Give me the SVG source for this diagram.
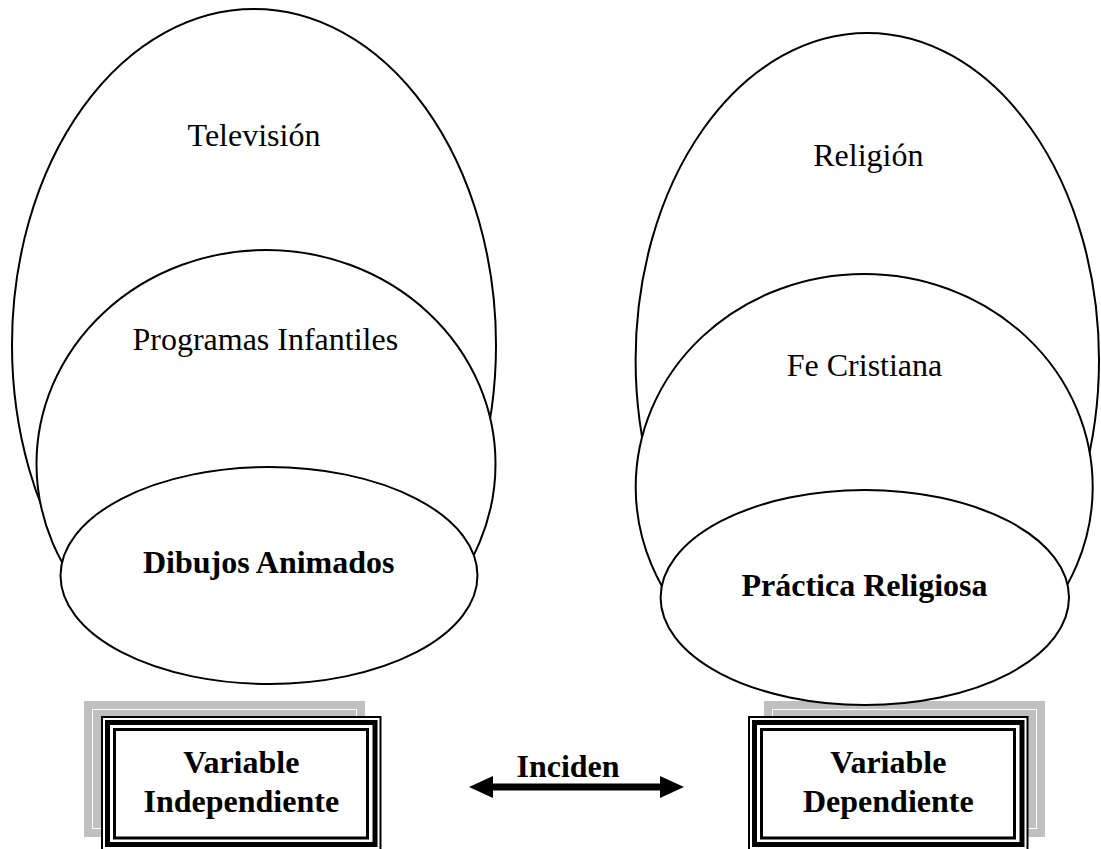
<svg xmlns="http://www.w3.org/2000/svg" width="1101" height="849" viewBox="0 0 1101 849">
<style>
  .ell { fill: #ffffff; stroke: #000000; stroke-width: 2; }
  .t { font-family: "Liberation Serif", "Times New Roman", serif; font-size: 32px; fill: #000000; text-anchor: middle; }
  .b { font-weight: bold; }
  .shadow { fill: #c0c0c0; }
  .shadowline { fill: none; stroke: #ffffff; stroke-width: 1; }
  .f1 { fill: #ffffff; stroke: #000000; stroke-width: 2; }
  .f2 { fill: none; stroke: #000000; stroke-width: 5; }
  .f3 { fill: none; stroke: #000000; stroke-width: 3; }
</style>
<defs>
  <marker id="head" viewBox="0 0 24 22" markerUnits="userSpaceOnUse" markerWidth="24" markerHeight="22" refX="8" refY="11" orient="auto-start-reverse">
    <path d="M0,0 L24,11 L0,22 z" fill="#000000"/>
  </marker>
</defs>
<rect width="1101" height="849" fill="#ffffff"/>

<!-- Variable boxes -->
<g id="var-independiente">
  <rect class="shadow" x="84" y="701" width="281" height="136"/>
  <rect class="shadowline" x="92.5" y="709.5" width="264" height="119"/>
  <rect class="f1" x="102" y="717" width="278.5" height="133"/>
  <rect class="f2" x="107.5" y="722.5" width="267.5" height="122"/>
  <rect class="f3" x="114.5" y="729.5" width="253" height="108.5"/>
  <text class="t b" x="241.3" y="772.7">Variable</text>
  <text class="t b" x="241.3" y="811.7">Independiente</text>
</g>
<g id="var-dependiente">
  <rect class="shadow" x="764" y="701" width="281" height="136"/>
  <rect class="shadowline" x="772.5" y="709.5" width="264" height="119"/>
  <rect class="f1" x="749" y="717" width="278.5" height="133"/>
  <rect class="f2" x="754.5" y="722.5" width="267.5" height="122"/>
  <rect class="f3" x="761.5" y="729.5" width="253" height="108.5"/>
  <text class="t b" x="888.3" y="772.7">Variable</text>
  <text class="t b" x="888.3" y="811.7">Dependiente</text>
</g>

<!-- Left ellipses -->
<g id="television">
  <ellipse class="ell" cx="254" cy="345" rx="242" ry="336"/>
  <text class="t" x="254" y="146">Televisión</text>
</g>
<g id="programas-infantiles">
  <ellipse class="ell" cx="266" cy="464" rx="229.5" ry="214"/>
  <text class="t" x="265.3" y="350">Programas Infantiles</text>
</g>
<g id="dibujos-animados">
  <ellipse class="ell" cx="269" cy="575.5" rx="208.5" ry="108.5"/>
  <text class="t b" x="268.7" y="573">Dibujos Animados</text>
</g>

<!-- Right ellipses -->
<g id="religion">
  <ellipse class="ell" cx="867.3" cy="360" rx="231.7" ry="327"/>
  <text class="t" x="868.3" y="166">Religión</text>
</g>
<g id="fe-cristiana">
  <ellipse class="ell" cx="864.2" cy="487" rx="228.5" ry="213"/>
  <text class="t" x="864.5" y="375.6">Fe Cristiana</text>
</g>
<g id="practica-religiosa">
  <ellipse class="ell" cx="864.8" cy="597.5" rx="204.2" ry="107.5"/>
  <text class="t b" x="864.5" y="596">Práctica Religiosa</text>
</g>

<!-- Connector -->
<g id="connectors">
  <line x1="485" y1="787" x2="668" y2="787" stroke="#000000" stroke-width="7" marker-start="url(#head)" marker-end="url(#head)"/>
  <text class="t b" x="568" y="777">Inciden</text>
</g>
</svg>
